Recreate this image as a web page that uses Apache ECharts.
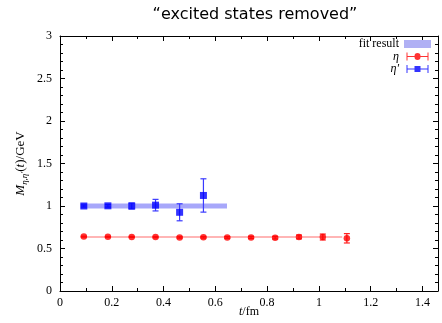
<!DOCTYPE html>
<html><head><meta charset="utf-8">
<script src="https://cdn.jsdelivr.net/npm/echarts@6/dist/echarts.min.js"></script>
<style>html,body{margin:0;padding:0;background:#fff}#c{width:442px;height:323px}</style>
</head><body><div id="c"></div>
<script>
// eta data
const tEta   = [0.092, 0.185, 0.277, 0.369, 0.462, 0.554, 0.646, 0.738, 0.831, 0.923, 1.015, 1.108];
const mEta   = [0.640, 0.638, 0.636, 0.634, 0.630, 0.632, 0.630, 0.630, 0.627, 0.636, 0.635, 0.620];
const eEta   = [0.005, 0.005, 0.006, 0.007, 0.008, 0.009, 0.010, 0.012, 0.015, 0.022, 0.035, 0.055];
// eta' data
const tEtaP  = [0.092, 0.185, 0.277, 0.369, 0.462, 0.554];
const mEtaP  = [1.000, 1.002, 1.000, 1.010, 0.926, 1.124];
const eEtaP  = [0.012, 0.015, 0.035, 0.068, 0.100, 0.196];
// fit results: [tFrom, tTo, value, error]
const fitEta  = [0.08, 1.09, 0.635, 0.012];
const fitEtaP = [0.08, 0.645, 1.000, 0.030];
// axes
const xTicks = [0, 0.2, 0.4, 0.6, 0.8, 1, 1.2, 1.4];
const yTicks = [0, 0.5, 1, 1.5, 2, 2.5, 3];

const serif = 'Liberation Serif, DejaVu Serif, serif';
const chart = echarts.init(document.getElementById('c'));

function errRender(color){
  return function(params, api){
    const x = api.value(0), y = api.value(1), e = api.value(2);
    const lo = api.coord([x, y - e]), hi = api.coord([x, y + e]);
    const w = 3;
    const style = {stroke: color, lineWidth: 1.2};
    return {type:'group', children:[
      {type:'line', shape:{x1:lo[0], y1:lo[1], x2:hi[0], y2:hi[1]}, style},
      {type:'line', shape:{x1:lo[0]-w, y1:lo[1], x2:lo[0]+w, y2:lo[1]}, style},
      {type:'line', shape:{x1:hi[0]-w, y1:hi[1], x2:hi[0]+w, y2:hi[1]}, style}
    ]};
  };
}
function bandRender(color){
  return function(params, api){
    const x0 = api.value(0), x1 = api.value(1), y = api.value(2), e = api.value(3);
    const p0 = api.coord([x0, y + e]), p1 = api.coord([x1, y - e]);
    return {type:'rect', shape:{x:p0[0], y:p0[1], width:p1[0]-p0[0], height:Math.max(p1[1]-p0[1], 1)}, style:{fill:color}};
  };
}

const axisCommon = {
  axisLine:{show:true, onZero:false, lineStyle:{color:'#000', width:1}},
  axisTick:{show:true, inside:true, length:5, lineStyle:{color:'#000'}},
  splitLine:{show:false},
};

const iconErrCircle = 'path://M0,0 L1,0 L1,3.5 L8,3.5 A3,3 0 0,1 14,3.5 L21,3.5 L21,0 L22,0 L22,8 L21,8 L21,4.5 L14,4.5 A3,3 0 0,1 8,4.5 L1,4.5 L1,8 L0,8 Z';
const iconErrSquare = 'path://M0,0 L1,0 L1,3.5 L8,3.5 L8,1 L14,1 L14,3.5 L21,3.5 L21,0 L22,0 L22,8 L21,8 L21,4.5 L14,4.5 L14,7 L8,7 L8,4.5 L1,4.5 L1,8 L0,8 Z';

chart.setOption({
  animation:false,
  backgroundColor:'#fff',
  title:{text:'\u201cexcited states removed\u201d', left:250, textAlign:'center', top:2,
    textStyle:{fontFamily:'DejaVu Sans, sans-serif', fontWeight:'normal', fontSize:16, color:'#000'}},
  grid:{left:60, right:4, top:36, bottom:32, containLabel:false, outerBoundsMode:'none'},
  legend:{
    orient:'vertical', right:11, top:38, padding:0, align:'right', itemWidth:27, itemHeight:8, itemGap:0.5,
    textStyle:{fontFamily:serif, fontSize:12, lineHeight:12, color:'#000',
      rich:{i:{fontFamily:serif, fontStyle:'italic', fontSize:12, lineHeight:12}}},
    formatter:function(n){ if(n==='fit result') return 'fit result'; return '{i|'+n+'}'; },
    data:[
      {name:'fit result', icon:'rect', itemStyle:{color:'#b0b0f4'}},
      {name:'\u03b7', icon:iconErrCircle},
      {name:'\u03b7\u2032', icon:iconErrSquare}
    ]
  },
  xAxis:[{
    type:'value', min:0, max:1.46, interval:0.2, position:'bottom',
    ...axisCommon, minorTick:{show:true, splitNumber:2, length:3, lineStyle:{color:'#000'}},
    axisLabel:{fontFamily:serif, fontSize:12, color:'#000', margin:6, showMaxLabel:false,
      formatter:function(v){ return xTicks.some(t=>Math.abs(t-v)<1e-6) ? String(+v.toFixed(1)) : ''; }},
    name:'{i|t}/fm', nameLocation:'middle', nameGap:15, nameMoveOverlap:false,
    nameTextStyle:{fontFamily:serif, fontSize:12, color:'#000', rich:{i:{fontFamily:serif, fontStyle:'italic', fontSize:12}}}
  },{
    type:'value', min:0, max:1.46, interval:0.2, position:'top',
    ...axisCommon, minorTick:{show:true, splitNumber:2, length:3, lineStyle:{color:'#000'}},
    axisLabel:{show:false}
  }],
  yAxis:[{
    type:'value', min:0, max:3, interval:0.5, position:'left',
    ...axisCommon, minorTick:{show:true, splitNumber:5, length:3, lineStyle:{color:'#000'}},
    axisLabel:{fontFamily:serif, fontSize:12, color:'#000', margin:8,
      formatter:function(v){ return yTicks.some(t=>Math.abs(t-v)<1e-6) ? String(v) : ''; }},
    name:'{i|M}{s|\u03b7,\u03b7\u2032}{n|(}{i|t}{n|)/GeV}', nameLocation:'middle', nameGap:31, nameRotate:90, nameMoveOverlap:false,
    nameTextStyle:{fontFamily:serif, fontSize:13, color:'#000',
      rich:{i:{fontFamily:serif, fontStyle:'italic', fontSize:13},
            s:{fontFamily:serif, fontStyle:'italic', fontSize:9, verticalAlign:'bottom', padding:[7,0,0,0]},
            n:{fontFamily:serif, fontSize:13}}}
  },{
    type:'value', min:0, max:3, interval:0.5, position:'right',
    ...axisCommon, minorTick:{show:true, splitNumber:5, length:3, lineStyle:{color:'#000'}},
    axisLabel:{show:false}
  }],
  series:[
    {name:'fit result', type:'custom', renderItem:bandRender('rgba(95,95,245,0.55)'),
      encode:{x:[0,1], y:[2,3]}, data:[fitEtaP], z:1, color:'#b0b0f4'},
    {name:'fit eta', type:'custom', renderItem:bandRender('rgba(255,120,120,0.55)'),
      encode:{x:[0,1], y:[2,3]}, data:[fitEta], z:1},
    {name:'err eta', type:'custom', renderItem:errRender('#ff2020'),
      encode:{x:0, y:1}, data:tEta.map((t,i)=>[t, mEta[i], eEta[i]]), z:3},
    {name:'err etap', type:'custom', renderItem:errRender('#3a3aff'),
      encode:{x:0, y:1}, data:tEtaP.map((t,i)=>[t, mEtaP[i], eEtaP[i]]), z:3},
    {name:'\u03b7', type:'scatter', symbol:'circle', symbolSize:6.5, itemStyle:{color:'#ff0000'},
      data:tEta.map((t,i)=>[t, mEta[i]]), z:4},
    {name:'\u03b7\u2032', type:'scatter', symbol:'rect', symbolSize:7, itemStyle:{color:'#0000ff'},
      data:tEtaP.map((t,i)=>[t, mEtaP[i]]), z:4}
  ]
});
</script>
</body></html>
